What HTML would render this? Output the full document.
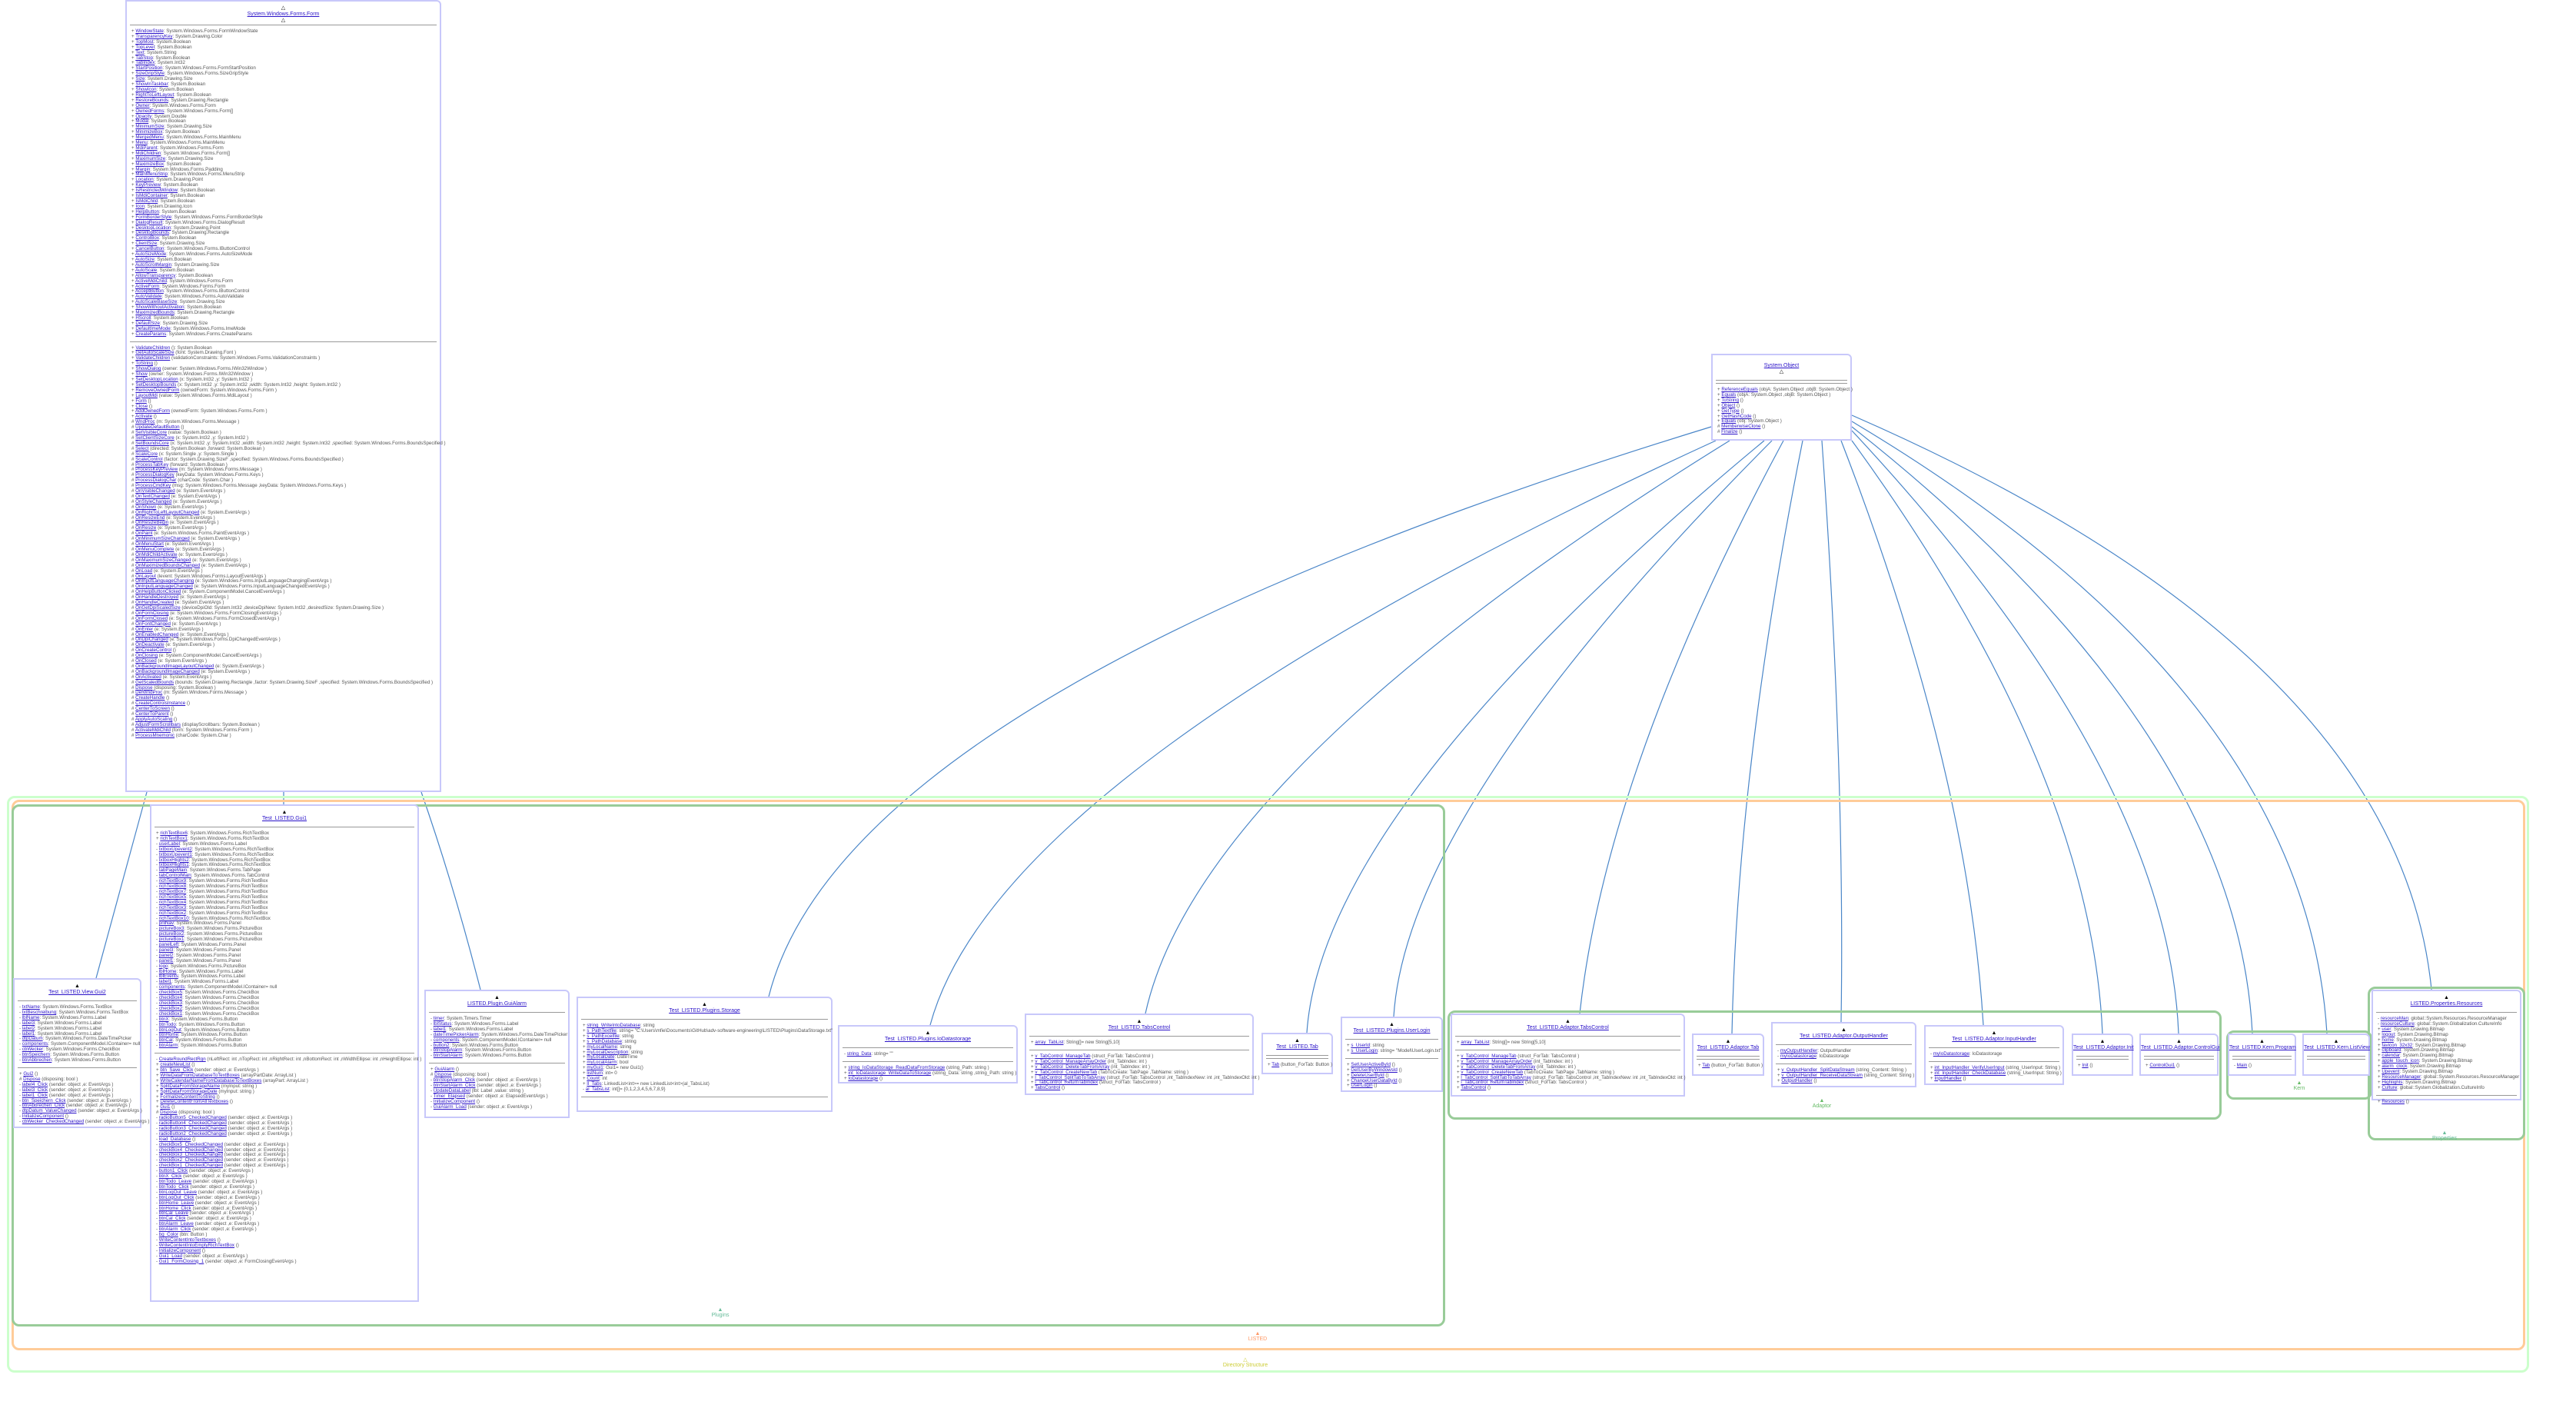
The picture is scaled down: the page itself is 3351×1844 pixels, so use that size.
<!DOCTYPE html>
<html><head><meta charset="utf-8">
<style>
body{margin:0;width:3351px;height:1844px;background:#fff;position:relative;overflow:hidden;font-family:"Liberation Sans",sans-serif}
.b{position:absolute;border:2px solid #c8c8fa;border-top-right-radius:6px;background:#fff;box-sizing:border-box;overflow:visible}
.h{text-align:center;font-size:7px;line-height:8px;padding-top:5px;height:19px;color:#000}
.h u{color:#2a12c8}
.s{border:0;border-top:1px solid #999;margin:3px 4px}
.t{font-size:6.2px;line-height:6.9px;color:#555;padding:2px 0 2px 6px;white-space:nowrap}
.t u{color:#2a12c8}
.p{position:absolute;border-radius:10px;box-sizing:border-box}
.lb{position:absolute;font-size:7px;text-align:center;width:160px}
svg{position:absolute;left:0;top:0}
</style></head><body>
<svg width="3351" height="1844">
<g stroke="#4a86c8" stroke-width="1.2" fill="none">
<path d="M191 1030 L125 1272"/>
<path d="M369 1030 L369 1046"/>
<path d="M548 1030 Q590 1150 625 1287"/>
<path d="M2226 555 Q1100 900 1000 1296"/>
<path d="M2232 573 Q1300 1000 1210 1333"/>
<path d="M2250 573 Q1560 1000 1490 1318"/>
<path d="M2295 573 Q1720 1050 1700 1343"/>
<path d="M2305 573 Q1830 1050 1813 1322"/>
<path d="M2320 573 Q2090 1000 2055 1318"/>
<path d="M2345 573 Q2260 1000 2253 1344"/>
<path d="M2370 573 Q2400 1000 2395 1329"/>
<path d="M2395 573 Q2560 1000 2580 1333"/>
<path d="M2409 573 Q2720 1000 2735 1344"/>
<path d="M2409 560 Q2820 1000 2834 1344"/>
<path d="M2409 555 Q2910 950 2930 1344"/>
<path d="M2409 548 Q3000 900 3027 1344"/>
<path d="M2409 540 Q3120 850 3163 1287"/>
</g></svg>

<div class="p" style="left:9px;top:1035px;width:3281px;height:750px;border:3px solid #ccffcc"></div>
<div class="p" style="left:15px;top:1040px;width:3270px;height:716px;border:3px solid #ffcc99"></div>
<div class="p" style="left:15px;top:1046px;width:1865px;height:679px;border:3px solid #99cc99"></div>
<div class="p" style="left:1883px;top:1314px;width:1007px;height:142px;border:3px solid #99cc99"></div>
<div class="p" style="left:2896px;top:1340px;width:190px;height:90px;border:3px solid #99cc99"></div>
<div class="p" style="left:3080px;top:1283px;width:205px;height:200px;border:3px solid #99cc99"></div>
<div class="lb" style="left:857px;top:1700px;color:#66bb99">▲<br>Plugins</div>
<div class="lb" style="left:1556px;top:1731px;color:#ff9966">▲<br>LISTED</div>
<div class="lb" style="left:1540px;top:1764px;color:#cccc33">△<br>Directory Structure</div>
<div class="lb" style="left:2290px;top:1428px;color:#66bb66">▲<br>Adaptor</div>
<div class="lb" style="left:2911px;top:1405px;color:#66bb66">▲<br>Kern</div>
<div class="lb" style="left:3100px;top:1470px;color:#66bb99">▲<br>Properties</div>

<!-- Form -->
<div class="b" style="left:163px;top:0;width:411px;height:1030px">
<div class="h">△<br><u>System.Windows.Forms.Form</u><br>△</div>
<hr class="s" style="margin-top:6px">
<div class="t">+ <u>WindowState</u>: System.Windows.Forms.FormWindowState<br>+ <u>TransparencyKey</u>: System.Drawing.Color<br>+ <u>TopMost</u>: System.Boolean<br>+ <u>TopLevel</u>: System.Boolean<br>+ <u>Text</u>: System.String<br>+ <u>TabStop</u>: System.Boolean<br>+ <u>TabIndex</u>: System.Int32<br>+ <u>StartPosition</u>: System.Windows.Forms.FormStartPosition<br>+ <u>SizeGripStyle</u>: System.Windows.Forms.SizeGripStyle<br>+ <u>Size</u>: System.Drawing.Size<br>+ <u>ShowInTaskbar</u>: System.Boolean<br>+ <u>ShowIcon</u>: System.Boolean<br>+ <u>RightToLeftLayout</u>: System.Boolean<br>+ <u>RestoreBounds</u>: System.Drawing.Rectangle<br>+ <u>Owner</u>: System.Windows.Forms.Form<br>+ <u>OwnedForms</u>: System.Windows.Forms.Form[]<br>+ <u>Opacity</u>: System.Double<br>+ <u>Modal</u>: System.Boolean<br>+ <u>MinimumSize</u>: System.Drawing.Size<br>+ <u>MinimizeBox</u>: System.Boolean<br>+ <u>MergedMenu</u>: System.Windows.Forms.MainMenu<br>+ <u>Menu</u>: System.Windows.Forms.MainMenu<br>+ <u>MdiParent</u>: System.Windows.Forms.Form<br>+ <u>MdiChildren</u>: System.Windows.Forms.Form[]<br>+ <u>MaximumSize</u>: System.Drawing.Size<br>+ <u>MaximizeBox</u>: System.Boolean<br>+ <u>Margin</u>: System.Windows.Forms.Padding<br>+ <u>MainMenuStrip</u>: System.Windows.Forms.MenuStrip<br>+ <u>Location</u>: System.Drawing.Point<br>+ <u>KeyPreview</u>: System.Boolean<br>+ <u>IsRestrictedWindow</u>: System.Boolean<br>+ <u>IsMdiContainer</u>: System.Boolean<br>+ <u>IsMdiChild</u>: System.Boolean<br>+ <u>Icon</u>: System.Drawing.Icon<br>+ <u>HelpButton</u>: System.Boolean<br>+ <u>FormBorderStyle</u>: System.Windows.Forms.FormBorderStyle<br>+ <u>DialogResult</u>: System.Windows.Forms.DialogResult<br>+ <u>DesktopLocation</u>: System.Drawing.Point<br>+ <u>DesktopBounds</u>: System.Drawing.Rectangle<br>+ <u>ControlBox</u>: System.Boolean<br>+ <u>ClientSize</u>: System.Drawing.Size<br>+ <u>CancelButton</u>: System.Windows.Forms.IButtonControl<br>+ <u>AutoSizeMode</u>: System.Windows.Forms.AutoSizeMode<br>+ <u>AutoSize</u>: System.Boolean<br>+ <u>AutoScrollMargin</u>: System.Drawing.Size<br>+ <u>AutoScale</u>: System.Boolean<br>+ <u>AllowTransparency</u>: System.Boolean<br>+ <u>ActiveMdiChild</u>: System.Windows.Forms.Form<br>+ <u>ActiveForm</u>: System.Windows.Forms.Form<br>+ <u>AcceptButton</u>: System.Windows.Forms.IButtonControl<br>+ <u>AutoValidate</u>: System.Windows.Forms.AutoValidate<br>+ <u>AutoScaleBaseSize</u>: System.Drawing.Size<br>+ <u>ShowWithoutActivation</u>: System.Boolean<br>+ <u>MaximizedBounds</u>: System.Drawing.Rectangle<br>+ <u>HScroll</u>: System.Boolean<br>+ <u>DefaultSize</u>: System.Drawing.Size<br>+ <u>DefaultImeMode</u>: System.Windows.Forms.ImeMode<br>+ <u>CreateParams</u>: System.Windows.Forms.CreateParams</div>
<hr class="s">
<div class="t">+ <u>ValidateChildren</u> (): System.Boolean<br>+ <u>GetAutoScaleSize</u> (font: System.Drawing.Font )<br>+ <u>ValidateChildren</u> (validationConstraints: System.Windows.Forms.ValidationConstraints )<br>+ <u>ToString</u> ()<br>+ <u>ShowDialog</u> (owner: System.Windows.Forms.IWin32Window )<br>+ <u>Show</u> (owner: System.Windows.Forms.IWin32Window )<br>+ <u>SetDesktopLocation</u> (x: System.Int32 ,y: System.Int32 )<br>+ <u>SetDesktopBounds</u> (x: System.Int32 ,y: System.Int32 ,width: System.Int32 ,height: System.Int32 )<br>+ <u>RemoveOwnedForm</u> (ownedForm: System.Windows.Forms.Form )<br>+ <u>LayoutMdi</u> (value: System.Windows.Forms.MdiLayout )<br>+ <u>Form</u> ()<br>+ <u>Close</u> ()<br>+ <u>AddOwnedForm</u> (ownedForm: System.Windows.Forms.Form )<br>+ <u>Activate</u> ()<br># <u>WndProc</u> (m: System.Windows.Forms.Message )<br># <u>UpdateDefaultButton</u> ()<br># <u>SetVisibleCore</u> (value: System.Boolean )<br># <u>SetClientSizeCore</u> (x: System.Int32 ,y: System.Int32 )<br># <u>SetBoundsCore</u> (x: System.Int32 ,y: System.Int32 ,width: System.Int32 ,height: System.Int32 ,specified: System.Windows.Forms.BoundsSpecified )<br># <u>Select</u> (directed: System.Boolean ,forward: System.Boolean )<br># <u>ScaleCore</u> (x: System.Single ,y: System.Single )<br># <u>ScaleControl</u> (factor: System.Drawing.SizeF ,specified: System.Windows.Forms.BoundsSpecified )<br># <u>ProcessTabKey</u> (forward: System.Boolean )<br># <u>ProcessKeyPreview</u> (m: System.Windows.Forms.Message )<br># <u>ProcessDialogKey</u> (keyData: System.Windows.Forms.Keys )<br># <u>ProcessDialogChar</u> (charCode: System.Char )<br># <u>ProcessCmdKey</u> (msg: System.Windows.Forms.Message ,keyData: System.Windows.Forms.Keys )<br># <u>OnVisibleChanged</u> (e: System.EventArgs )<br># <u>OnTextChanged</u> (e: System.EventArgs )<br># <u>OnStyleChanged</u> (e: System.EventArgs )<br># <u>OnShown</u> (e: System.EventArgs )<br># <u>OnRightToLeftLayoutChanged</u> (e: System.EventArgs )<br># <u>OnResizeEnd</u> (e: System.EventArgs )<br># <u>OnResizeBegin</u> (e: System.EventArgs )<br># <u>OnResize</u> (e: System.EventArgs )<br># <u>OnPaint</u> (e: System.Windows.Forms.PaintEventArgs )<br># <u>OnMinimumSizeChanged</u> (e: System.EventArgs )<br># <u>OnMenuStart</u> (e: System.EventArgs )<br># <u>OnMenuComplete</u> (e: System.EventArgs )<br># <u>OnMdiChildActivate</u> (e: System.EventArgs )<br># <u>OnMaximumSizeChanged</u> (e: System.EventArgs )<br># <u>OnMaximizedBoundsChanged</u> (e: System.EventArgs )<br># <u>OnLoad</u> (e: System.EventArgs )<br># <u>OnLayout</u> (levent: System.Windows.Forms.LayoutEventArgs )<br># <u>OnInputLanguageChanging</u> (e: System.Windows.Forms.InputLanguageChangingEventArgs )<br># <u>OnInputLanguageChanged</u> (e: System.Windows.Forms.InputLanguageChangedEventArgs )<br># <u>OnHelpButtonClicked</u> (e: System.ComponentModel.CancelEventArgs )<br># <u>OnHandleDestroyed</u> (e: System.EventArgs )<br># <u>OnHandleCreated</u> (e: System.EventArgs )<br># <u>OnGetDpiScaledSize</u> (deviceDpiOld: System.Int32 ,deviceDpiNew: System.Int32 ,desiredSize: System.Drawing.Size )<br># <u>OnFormClosing</u> (e: System.Windows.Forms.FormClosingEventArgs )<br># <u>OnFormClosed</u> (e: System.Windows.Forms.FormClosedEventArgs )<br># <u>OnFontChanged</u> (e: System.EventArgs )<br># <u>OnEnter</u> (e: System.EventArgs )<br># <u>OnEnabledChanged</u> (e: System.EventArgs )<br># <u>OnDpiChanged</u> (e: System.Windows.Forms.DpiChangedEventArgs )<br># <u>OnDeactivate</u> (e: System.EventArgs )<br># <u>OnCreateControl</u> ()<br># <u>OnClosing</u> (e: System.ComponentModel.CancelEventArgs )<br># <u>OnClosed</u> (e: System.EventArgs )<br># <u>OnBackgroundImageLayoutChanged</u> (e: System.EventArgs )<br># <u>OnBackgroundImageChanged</u> (e: System.EventArgs )<br># <u>OnActivated</u> (e: System.EventArgs )<br># <u>GetScaledBounds</u> (bounds: System.Drawing.Rectangle ,factor: System.Drawing.SizeF ,specified: System.Windows.Forms.BoundsSpecified )<br># <u>Dispose</u> (disposing: System.Boolean )<br># <u>DefWndProc</u> (m: System.Windows.Forms.Message )<br># <u>CreateHandle</u> ()<br># <u>CreateControlsInstance</u> ()<br># <u>CenterToScreen</u> ()<br># <u>CenterToParent</u> ()<br># <u>ApplyAutoScaling</u> ()<br># <u>AdjustFormScrollbars</u> (displayScrollbars: System.Boolean )<br># <u>ActivateMdiChild</u> (form: System.Windows.Forms.Form )<br># <u>ProcessMnemonic</u> (charCode: System.Char )</div>
</div>

<!-- Object -->
<div class="b" style="left:2226px;top:460px;width:183px;height:113px">
<div class="h" style="padding-top:10px"><u>System.Object</u><br>△</div>
<hr class="s"><hr class="s">
<div class="t">+ <u>ReferenceEquals</u> (objA: System.Object ,objB: System.Object )<br>+ <u>Equals</u> (objA: System.Object ,objB: System.Object )<br>+ <u>ToString</u> ()<br>+ <u>Object</u> ()<br>+ <u>GetType</u> ()<br>+ <u>GetHashCode</u> ()<br>+ <u>Equals</u> (obj: System.Object )<br># <u>MemberwiseClone</u> ()<br># <u>Finalize</u> ()</div>
</div>

<!-- Gui1 -->
<div class="b" style="left:195px;top:1046px;width:350px;height:647px">
<div class="h">▲<br><u>Test_LISTED.Gui1</u></div>
<hr class="s">
<div class="t">+ <u>richTextBox6</u>: System.Windows.Forms.RichTextBox<br>+ <u>richTextBox1</u>: System.Windows.Forms.RichTextBox<br>- <u>userLabel</u>: System.Windows.Forms.Label<br>- <u>txtboxUpevent2</u>: System.Windows.Forms.RichTextBox<br>- <u>txtboxUpevent1</u>: System.Windows.Forms.RichTextBox<br>- <u>txtboxHlights2</u>: System.Windows.Forms.RichTextBox<br>- <u>txtboxHlights1</u>: System.Windows.Forms.RichTextBox<br>- <u>tabPageMain</u>: System.Windows.Forms.TabPage<br>- <u>tabControlMain</u>: System.Windows.Forms.TabControl<br>- <u>richTextBox9</u>: System.Windows.Forms.RichTextBox<br>- <u>richTextBox8</u>: System.Windows.Forms.RichTextBox<br>- <u>richTextBox7</u>: System.Windows.Forms.RichTextBox<br>- <u>richTextBox5</u>: System.Windows.Forms.RichTextBox<br>- <u>richTextBox4</u>: System.Windows.Forms.RichTextBox<br>- <u>richTextBox3</u>: System.Windows.Forms.RichTextBox<br>- <u>richTextBox2</u>: System.Windows.Forms.RichTextBox<br>- <u>richTextBox10</u>: System.Windows.Forms.RichTextBox<br>- <u>pnlNav</u>: System.Windows.Forms.Panel<br>- <u>pictureBox3</u>: System.Windows.Forms.PictureBox<br>- <u>pictureBox2</u>: System.Windows.Forms.PictureBox<br>- <u>pictureBox1</u>: System.Windows.Forms.PictureBox<br>- <u>panelLeft</u>: System.Windows.Forms.Panel<br>- <u>panel3</u>: System.Windows.Forms.Panel<br>- <u>panel2</u>: System.Windows.Forms.Panel<br>- <u>panel1</u>: System.Windows.Forms.Panel<br>- <u>logo</u>: System.Windows.Forms.PictureBox<br>- <u>lblHome</u>: System.Windows.Forms.Label<br>- <u>lblEvents</u>: System.Windows.Forms.Label<br>- <u>label1</u>: System.Windows.Forms.Label<br>- <u>components</u>: System.ComponentModel.IContainer= null<br>- <u>checkBox5</u>: System.Windows.Forms.CheckBox<br>- <u>checkBox4</u>: System.Windows.Forms.CheckBox<br>- <u>checkBox3</u>: System.Windows.Forms.CheckBox<br>- <u>checkBox2</u>: System.Windows.Forms.CheckBox<br>- <u>checkBox1</u>: System.Windows.Forms.CheckBox<br>- <u>btnX</u>: System.Windows.Forms.Button<br>- <u>btnTodo</u>: System.Windows.Forms.Button<br>- <u>btnLogOut</u>: System.Windows.Forms.Button<br>- <u>btnHome</u>: System.Windows.Forms.Button<br>- <u>btnCal</u>: System.Windows.Forms.Button<br>- <u>btnAlarm</u>: System.Windows.Forms.Button</div>
<hr class="s">
<div class="t">- <u>CreateRoundRectRgn</u> (nLeftRect: int ,nTopRect: int ,nRightRect: int ,nBottomRect: int ,nWidthEllipse: int ,nHeightEllipse: int )<br>+ <u>createNewList</u> ()<br>+ <u>btn_Save_Click</u> (sender: object ,e: EventArgs )<br>+ <u>WriteDataFromDatabaseToTextBoxes</u> (arrayPartDate: ArrayList )<br>+ <u>WriteCalendarNameFromDatabaseToTextBoxes</u> (arrayPart: ArrayList )<br>+ <u>SplitDataFromStorageName</u> (myInput: string )<br>+ <u>SplitDataFromStorageDate</u> (myInput: string )<br>+ <u>FormalizeContentToString</u> ()<br>+ <u>DeleteContentFromAllTextboxes</u> ()<br>+ <u>Gui1</u> ()<br># <u>Dispose</u> (disposing: bool )<br>- <u>radioButton5_CheckedChanged</u> (sender: object ,e: EventArgs )<br>- <u>radioButton4_CheckedChanged</u> (sender: object ,e: EventArgs )<br>- <u>radioButton3_CheckedChanged</u> (sender: object ,e: EventArgs )<br>- <u>radioButton2_CheckedChanged</u> (sender: object ,e: EventArgs )<br>- <u>load_Database</u> ()<br>- <u>checkBox5_CheckedChanged</u> (sender: object ,e: EventArgs )<br>- <u>checkBox4_CheckedChanged</u> (sender: object ,e: EventArgs )<br>- <u>checkBox3_CheckedChanged</u> (sender: object ,e: EventArgs )<br>- <u>checkBox2_CheckedChanged</u> (sender: object ,e: EventArgs )<br>- <u>checkBox1_CheckedChanged</u> (sender: object ,e: EventArgs )<br>- <u>button1_Click</u> (sender: object ,e: EventArgs )<br>- <u>btnX_Click</u> (sender: object ,e: EventArgs )<br>- <u>btnTodo_Leave</u> (sender: object ,e: EventArgs )<br>- <u>btnTodo_Click</u> (sender: object ,e: EventArgs )<br>- <u>btnLogOut_Leave</u> (sender: object ,e: EventArgs )<br>- <u>btnLogOut_Click</u> (sender: object ,e: EventArgs )<br>- <u>btnHome_Leave</u> (sender: object ,e: EventArgs )<br>- <u>btnHome_Click</u> (sender: object ,e: EventArgs )<br>- <u>btnCal_Leave</u> (sender: object ,e: EventArgs )<br>- <u>btnCal_Click</u> (sender: object ,e: EventArgs )<br>- <u>btnAlarm_Leave</u> (sender: object ,e: EventArgs )<br>- <u>btnAlarm_Click</u> (sender: object ,e: EventArgs )<br>- <u>bg_Color</u> (btn: Button )<br>- <u>WriteContentIntoTextboxes</u> ()<br>- <u>WriteContentIntoEmptyRichTextBox</u> ()<br>- <u>InitializeComponent</u> ()<br>- <u>Gui1_Load</u> (sender: object ,e: EventArgs )<br>- <u>Gui1_FormClosing_1</u> (sender: object ,e: FormClosingEventArgs )</div>
</div>

<!-- Gui2 -->
<div class="b" style="left:17px;top:1272px;width:167px;height:195px">
<div class="h">▲<br><u>Test_LISTED.View.Gui2</u></div>
<hr class="s">
<div class="t">- <u>txtName</u>: System.Windows.Forms.TextBox<br>- <u>txtBeschreibung</u>: System.Windows.Forms.TextBox<br>- <u>lblName</u>: System.Windows.Forms.Label<br>- <u>label3</u>: System.Windows.Forms.Label<br>- <u>label2</u>: System.Windows.Forms.Label<br>- <u>label1</u>: System.Windows.Forms.Label<br>- <u>dtpDatum</u>: System.Windows.Forms.DateTimePicker<br>- <u>components</u>: System.ComponentModel.IContainer= null<br>- <u>cbWecker</u>: System.Windows.Forms.CheckBox<br>- <u>btnSpeichern</u>: System.Windows.Forms.Button<br>- <u>btnAbbrechen</u>: System.Windows.Forms.Button</div>
<hr class="s">
<div class="t">+ <u>Gui2</u> ()<br># <u>Dispose</u> (disposing: bool )<br>- <u>label4_Click</u> (sender: object ,e: EventArgs )<br>- <u>label3_Click</u> (sender: object ,e: EventArgs )<br>- <u>label1_Click</u> (sender: object ,e: EventArgs )<br>- <u>btn_Speichern_Click</u> (sender: object ,e: EventArgs )<br>- <u>btnAbbrechen_Click</u> (sender: object ,e: EventArgs )<br>- <u>dtpDatum_ValueChanged</u> (sender: object ,e: EventArgs )<br>- <u>InitializeComponent</u> ()<br>- <u>cbWecker_CheckedChanged</u> (sender: object ,e: EventArgs )</div>
</div>

<!-- GuiAlarm -->
<div class="b" style="left:552px;top:1287px;width:189px;height:167px">
<div class="h">▲<br><u>LISTED.Plugin.GuiAlarm</u></div>
<hr class="s">
<div class="t">- <u>timer</u>: System.Timers.Timer<br>- <u>lblStatus</u>: System.Windows.Forms.Label<br>- <u>label1</u>: System.Windows.Forms.Label<br>- <u>dateTimePickerAlarm</u>: System.Windows.Forms.DateTimePicker<br>- <u>components</u>: System.ComponentModel.IContainer= null<br>- <u>button2</u>: System.Windows.Forms.Button<br>- <u>btnStopAlarm</u>: System.Windows.Forms.Button<br>- <u>btnStartAlarm</u>: System.Windows.Forms.Button</div>
<hr class="s">
<div class="t">+ <u>GuiAlarm</u> ()<br># <u>Dispose</u> (disposing: bool )<br>- <u>btnStopAlarm_Click</u> (sender: object ,e: EventArgs )<br>- <u>btnStartAlarm_Click</u> (sender: object ,e: EventArgs )<br>- <u>UpdateDataLabel</u> (lbl: Label ,value: string )<br>- <u>Timer_Elapsed</u> (sender: object ,e: ElapsedEventArgs )<br>- <u>InitializeComponent</u> ()<br>- <u>GuiAlarm_Load</u> (sender: object ,e: EventArgs )</div>
</div>

<!-- Storage -->
<div class="b" style="left:750px;top:1296px;width:333px;height:150px">
<div class="h">▲<br><u>Test_LISTED.Plugins.Storage</u></div>
<hr class="s">
<div class="t">+ <u>string_WriteIntoDatabase</u>: string<br>+ <u>s_PathTextfile</u>: string= "C:\Users\mfie\Documents\GitHub\adv-software-engineering\LISTED\Plugins\DataStorage.txt"<br>+ <u>s_PathExcelfile</u>: string<br>+ <u>s_PathDatabase</u>: string<br>+ <u>myLocalName</u>: string<br>+ <u>myLocalDescription</u>: string<br>+ <u>myLocalDate</u>: DateTime<br>+ <u>myLocalAlarm</u>: bool<br>+ <u>myGui1</u>: Gui1= new Gui1()<br>+ <u>listNum</u>: int= 0<br>+ <u>Count</u>: int<br>+ <u>ll_Tabs</u>: LinkedList&lt;int&gt;= new LinkedList&lt;int&gt;(al_TabsList)<br>- <u>al_TabsList</u>: int[]= {0,1,2,3,4,5,6,7,8,9}</div>
<hr class="s">
</div>

<!-- IoDataStorage -->
<div class="b" style="left:1090px;top:1333px;width:234px;height:76px">
<div class="h">▲<br><u>Test_LISTED.Plugins.IoDatastorage</u></div>
<hr class="s">
<div class="t">- <u>string_Data</u>: string= ""</div>
<hr class="s">
<div class="t">+ <u>string_IoDataStorage_ReadDataFromStorage</u> (string_Path: string )<br>+ <u>int_IoDatastorage_WriteDataToStorage</u> (string_Data: string ,string_Path: string )<br>+ <u>IoDatastorage</u> ()</div>
</div>

<!-- Plugins TabsControl -->
<div class="b" style="left:1333px;top:1318px;width:298px;height:106px">
<div class="h">▲<br><u>Test_LISTED.TabsControl</u></div>
<hr class="s">
<div class="t">+ <u>array_TabList</u>: String[]= new String[5,10]</div>
<hr class="s">
<div class="t">+ <u>v_TabControl_ManageTab</u> (struct_ForTab: TabsControl )<br>+ <u>v_TabControl_ManageArrayOrder</u> (int_TabIndex: int )<br>+ <u>v_TabControl_DeleteTabFromArray</u> (int_TabIndex: int )<br>+ <u>v_TabControl_CreateNewTab</u> (TabToCreate: TabPage ,TabName: string )<br>+ <u>l_TabControl_SplitTabToTabArray</u> (struct_ForTab: TabsControl ,int_TabIndexNew: int ,int_TabIndexOld: int )<br>+ <u>i_TabControl_ReturnTabIndex</u> (struct_ForTab: TabsControl )<br>+ <u>TabsControl</u> ()</div>
</div>

<div class="b" style="left:1641px;top:1343px;width:93px;height:54px">
<div class="h">▲<br><u>Test_LISTED.Tab</u></div>
<hr class="s"><hr class="s">
<div class="t">+ <u>Tab</u> (button_ForTab: Button )</div>
</div>

<div class="b" style="left:1744px;top:1322px;width:133px;height:98px">
<div class="h">▲<br><u>Test_LISTED.Plugins.UserLogin</u></div>
<hr class="s">
<div class="t">+ <u>s_UserId</u>: string<br>+ <u>s_UserLogin</u>: string= "Model\UserLogin.txt"</div>
<hr class="s">
<div class="t">+ <u>SetUserActiveById</u> ()<br>+ <u>GetUserByWindowsId</u> ()<br>+ <u>DeleteUserById</u> ()<br>+ <u>ChangeUserDataById</u> ()<br>+ <u>UserLogin</u> ()</div>
</div>

<!-- Adaptor -->
<div class="b" style="left:1887px;top:1318px;width:305px;height:108px">
<div class="h">▲<br><u>Test_LISTED.Adaptor.TabsControl</u></div>
<hr class="s">
<div class="t">+ <u>array_TabList</u>: String[]= new String[5,10]</div>
<hr class="s">
<div class="t">+ <u>v_TabControl_ManageTab</u> (struct_ForTab: TabsControl )<br>+ <u>v_TabControl_ManageArrayOrder</u> (int_TabIndex: int )<br>+ <u>v_TabControl_DeleteTabFromArray</u> (int_TabIndex: int )<br>+ <u>v_TabControl_CreateNewTab</u> (TabToCreate: TabPage ,TabName: string )<br>+ <u>l_TabControl_SplitTabToTabArray</u> (struct_ForTab: TabsControl ,int_TabIndexNew: int ,int_TabIndexOld: int )<br>+ <u>i_TabControl_ReturnTabIndex</u> (struct_ForTab: TabsControl )<br>+ <u>TabsControl</u> ()</div>
</div>
<div class="b" style="left:2201px;top:1344px;width:94px;height:55px">
<div class="h">▲<br><u>Test_LISTED.Adaptor.Tab</u></div>
<hr class="s"><hr class="s">
<div class="t">+ <u>Tab</u> (button_ForTab: Button )</div>
</div>
<div class="b" style="left:2304px;top:1329px;width:189px;height:85px">
<div class="h">▲<br><u>Test_LISTED.Adaptor.OutputHandler</u></div>
<hr class="s">
<div class="t">- <u>myOutputHandler</u>: OutputHandler<br>- <u>myIoDatastorage</u>: IoDatastorage</div>
<hr class="s">
<div class="t">+ <u>v_OutputHandler_SplitDataStream</u> (string_Content: String )<br>+ <u>v_OutputHandler_ReceiveDataStream</u> (string_Content: String )<br>+ <u>OutputHandler</u> ()</div>
</div>
<div class="b" style="left:2503px;top:1333px;width:182px;height:78px">
<div class="h">▲<br><u>Test_LISTED.Adaptor.InputHandler</u></div>
<hr class="s">
<div class="t">- <u>myIoDatastorage</u>: IoDatastorage</div>
<hr class="s">
<div class="t">+ <u>int_InputHandler_VerifyUserInput</u> (string_UserInput: String )<br>+ <u>int_InputHandler_CheckDatabase</u> (string_UserInput: String )<br>+ <u>InputHandler</u> ()</div>
</div>
<div class="b" style="left:2695px;top:1344px;width:80px;height:55px">
<div class="h">▲<br><u>Test_LISTED.Adaptor.Init</u></div>
<hr class="s"><hr class="s">
<div class="t">+ <u>Init</u> ()</div>
</div>
<div class="b" style="left:2783px;top:1344px;width:103px;height:55px">
<div class="h">▲<br><u>Test_LISTED.Adaptor.ControlGui</u></div>
<hr class="s"><hr class="s">
<div class="t">+ <u>ControlGui1</u> ()</div>
</div>
<div class="b" style="left:2898px;top:1344px;width:89px;height:55px">
<div class="h">▲<br><u>Test_LISTED.Kern.Program</u></div>
<hr class="s"><hr class="s">
<div class="t">- <u>Main</u> ()</div>
</div>
<div class="b" style="left:2995px;top:1344px;width:88px;height:55px">
<div class="h">▲<br><u>Test_LISTED.Kern.ListView</u></div>
<hr class="s"><hr class="s">
</div>

<!-- Resources -->
<div class="b" style="left:3085px;top:1287px;width:195px;height:144px">
<div class="h">▲<br><u>LISTED.Properties.Resources</u></div>
<hr class="s">
<div class="t">- <u>resourceMan</u>: global::System.Resources.ResourceManager<br>- <u>resourceCulture</u>: global::System.Globalization.CultureInfo<br>+ <u>user</u>: System.Drawing.Bitmap<br>+ <u>logout</u>: System.Drawing.Bitmap<br>+ <u>home</u>: System.Drawing.Bitmap<br>+ <u>favicon_32x32</u>: System.Drawing.Bitmap<br>+ <u>clipboard</u>: System.Drawing.Bitmap<br>+ <u>calendar</u>: System.Drawing.Bitmap<br>+ <u>apple_touch_icon</u>: System.Drawing.Bitmap<br>+ <u>alarm_clock</u>: System.Drawing.Bitmap<br>+ <u>Upevent</u>: System.Drawing.Bitmap<br>+ <u>ResourceManager</u>: global::System.Resources.ResourceManager<br>+ <u>Highlights</u>: System.Drawing.Bitmap<br>+ <u>Culture</u>: global::System.Globalization.CultureInfo</div>
<hr class="s">
<div class="t">+ <u>Resources</u> ()</div>
</div>
</body></html>
